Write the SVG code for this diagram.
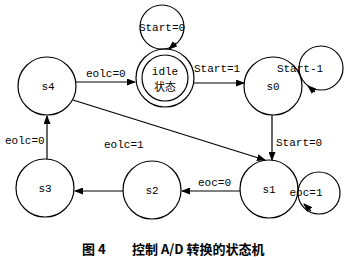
<svg xmlns="http://www.w3.org/2000/svg" width="348" height="260" viewBox="0 0 348 260">
<style>
.n{fill:none;stroke:#000;stroke-width:1.2}
.e{fill:none;stroke:#000;stroke-width:1.2}
.t{font-family:"Liberation Mono","DejaVu Sans Mono",monospace;font-size:11px;fill:#000}
.c{text-anchor:middle}
.cj{font-family:"Noto Sans CJK SC",sans-serif;font-size:11px;fill:#000}
.cap{font-family:"Noto Sans CJK SC",sans-serif;font-size:13px;font-weight:bold;fill:#000}
</style>
<defs>
<marker id="a" markerUnits="userSpaceOnUse" markerWidth="9" markerHeight="7" refX="8" refY="3.5" orient="auto">
<path d="M0,0 L9,3.5 L0,7 z" fill="#000"/>
</marker>
</defs>
<rect width="348" height="260" fill="#fff"/>
<g id="connectors">
<line class="e" x1="76" y1="82" x2="135" y2="82" marker-end="url(#a)"/>
<line class="e" x1="193" y1="83" x2="244" y2="83" marker-end="url(#a)"/>
<line class="e" x1="272" y1="115" x2="272" y2="160" marker-end="url(#a)"/>
<line class="e" x1="73" y1="100" x2="265" y2="160" marker-end="url(#a)"/>
<line class="e" x1="240" y1="191" x2="182" y2="191" marker-end="url(#a)"/>
<line class="e" x1="123" y1="191" x2="75" y2="191" marker-end="url(#a)"/>
<line class="e" x1="47" y1="159" x2="47" y2="116" marker-end="url(#a)"/>
<circle class="e" cx="162" cy="27" r="22"/>
<line class="e" x1="176" y1="43" x2="169" y2="49" marker-end="url(#a)"/>
<circle class="e" cx="321" cy="68" r="22"/>
<line class="e" x1="315" y1="92" x2="308" y2="86" marker-end="url(#a)"/>
<circle class="e" cx="319" cy="193" r="21"/>
<line class="e" x1="311" y1="211" x2="304" y2="204" marker-end="url(#a)"/>
<text class="t c" x="162" y="31">Start=0</text>
<text class="t" x="194" y="72">Start=1</text>
<text class="t c" x="300" y="72">Start-1</text>
<text class="t" x="86" y="77">eolc=0</text>
<text class="t" x="276" y="146">Start=0</text>
<text class="t" x="104" y="148">eolc=1</text>
<text class="t" x="198" y="186">eoc=0</text>
<text class="t c" x="306" y="196">eoc=1</text>
<text class="t" x="5" y="144">eolc=0</text>
</g>
<g id="idle">
<circle class="n" cx="165" cy="78" r="29"/>
<circle class="n" cx="165" cy="78" r="23"/>
<text class="t c" x="165" y="75">idle</text>
<text class="cj c" x="165" y="91">状态</text>
</g>
<g id="s0">
<circle class="n" cx="273" cy="86" r="29"/>
<text class="t c" x="273" y="90">s0</text>
</g>
<g id="s1">
<circle class="n" cx="269" cy="189" r="29"/>
<text class="t c" x="269" y="193">s1</text>
</g>
<g id="s2">
<circle class="n" cx="152" cy="190" r="29"/>
<text class="t c" x="152" y="194">s2</text>
</g>
<g id="s3">
<circle class="n" cx="45" cy="188" r="29"/>
<text class="t c" x="45" y="192">s3</text>
</g>
<g id="s4">
<circle class="n" cx="47" cy="86" r="29"/>
<text class="t c" x="48" y="90">s4</text>
</g>
<g id="caption">
<text class="cap" x="82" y="254">图 4</text>
<text class="cap" x="132" y="254">控制 A/D 转换的状态机</text>
</g>
</svg>
